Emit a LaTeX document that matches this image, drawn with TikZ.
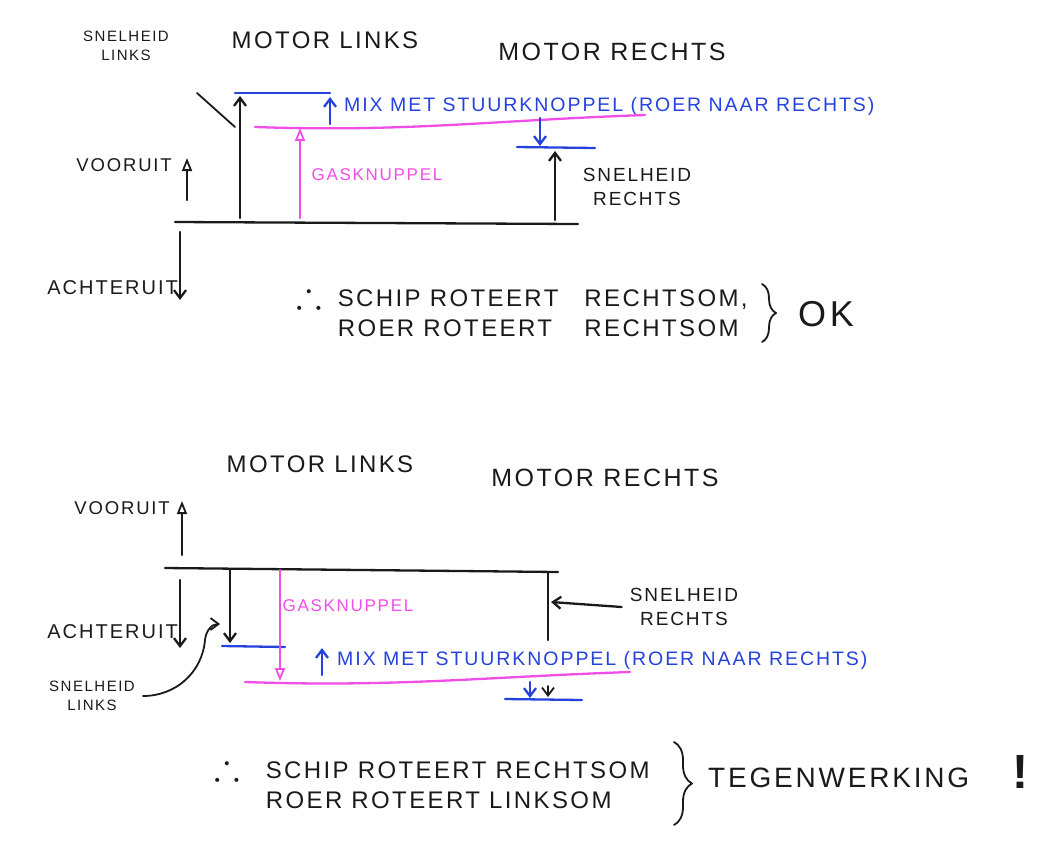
\documentclass[tikz,border=0pt]{standalone}
\usepackage{amssymb}
\usepackage{graphicx}
\usepackage{fontspec}
\setmainfont[LetterSpace=10]{Liberation Sans}
\usepackage{xcolor}
\usetikzlibrary{arrows.meta,decorations.pathreplacing}
\definecolor{inkc}{HTML}{1A1A1A}
\definecolor{mixc}{HTML}{2642DC}
\definecolor{gasc}{HTML}{F04EE6}
\tikzset{
  axis/.style={draw=inkc, line width=2.3pt, line cap=round, line join=round},
  mix/.style={draw=mixc, line width=2.3pt, line cap=round},
  gas/.style={draw=gasc, line width=2.3pt, line cap=round},
  barb/.style={-{Straight Barb[length=8pt,width=12pt]}},
  opentip/.style={-{Triangle[open,length=13pt,width=10pt,line width=1.8pt]}},
  lbl/.style={inner sep=0pt, text=inkc, align=center},
}
\newcommand{\thf}{\raisebox{-1pt}{\scalebox{1.6}{$\therefore$}}}

\begin{document}
\begin{tikzpicture}[x=1pt,y=-1pt]
\useasboundingbox (0,0) rectangle (1038,849);
% top: roer naar rechts, vooruit
\node[lbl, font=\fontsize{15}{19}\selectfont] (snl1) at (126,46) {SNELHEID\\LINKS};
\node[lbl, font=\fontsize{24}{28}\selectfont] (ml1) at (325,40) {MOTOR LINKS};
\node[lbl, font=\fontsize{25}{29}\selectfont] (mr1) at (612,52) {MOTOR RECHTS};
\node[lbl, font=\fontsize{18.5}{24}\selectfont, anchor=east] (vo1) at (172,165) {VOORUIT};
\node[lbl, font=\fontsize{20}{25}\selectfont, anchor=east] (ac1) at (178,288) {ACHTERUIT};
\draw[axis] (175,222) -- (578,224);
\draw[axis, opentip] (187,200) -- (187,158);
\draw[axis, barb] (180,232) -- (180,300);
\draw[axis, line width=1.8pt] (197,93) -- (235,127);
\draw[axis, barb] (240,218) -- (240,96);
\draw[mix] (235,93) -- (330,93);
\draw[mix, barb] (330,124) -- (330,97);
\node[lbl, text=mixc, font=\fontsize{19.5}{24}\selectfont, anchor=west] (mix1) at (344,106) {MIX MET STUURKNOPPEL (ROER NAAR RECHTS)};
\draw[gas] (255,127) to[out=-2,in=182] (645,115);
\draw[gas, opentip] (300,218) -- (300,128);
\node[lbl, text=gasc, font=\fontsize{17}{22}\selectfont] (gas1) at (377,175) {GASKNUPPEL};
\draw[mix, barb] (540,118) -- (540,146);
\draw[mix] (517,147) -- (595,148);
\draw[axis, barb] (555,220) -- (555,151);
\node[lbl, font=\fontsize{19}{24}\selectfont] (snr1) at (637,187) {SNELHEID\\RECHTS};
\node[lbl, font=\fontsize{24}{30}\selectfont, anchor=west, align=left] (res1) at (296,313)
  {\begin{tabular}{@{}l@{\hspace{16pt}}l@{\hspace{26pt}}l@{}}\thf & SCHIP ROTEERT & RECHTSOM,\\ & ROER ROTEERT & RECHTSOM\end{tabular}};
\draw[axis, line width=1.8pt, decorate, decoration={brace, amplitude=14pt}] (762,284) -- (762,342);
\node[lbl, font=\fontsize{36}{40}\selectfont, anchor=west] (ok1) at (798,314) {OK};
% bottom: roer naar rechts, achteruit
\node[lbl, font=\fontsize{24}{28}\selectfont] (ml2) at (320,464) {MOTOR LINKS};
\node[lbl, font=\fontsize{25}{29}\selectfont] (mr2) at (605,478) {MOTOR RECHTS};
\node[lbl, font=\fontsize{18.5}{24}\selectfont, anchor=east] (vo2) at (170,508) {VOORUIT};
\node[lbl, font=\fontsize{20}{25}\selectfont, anchor=east] (ac2) at (178,632) {ACHTERUIT};
\draw[axis] (165,568) -- (558,572);
\draw[axis, opentip] (182,555) -- (182,501);
\draw[axis, barb] (180,580) -- (180,648);
\draw[axis, barb] (230,570) -- (230,643);
\draw[mix] (222,646) -- (285,647);
\draw[gas, opentip] (280,570) -- (280,681);
\draw[gas] (245,682) to[out=-2,in=182] (630,672);
\node[lbl, text=gasc, font=\fontsize{17}{22}\selectfont] (gas2) at (348,606) {GASKNUPPEL};
\draw[axis] (548,572) -- (548,640);
\coordinate (rr2) at (551,602);
\node[lbl, font=\fontsize{19}{24}\selectfont] (snr2) at (684,607) {SNELHEID\\RECHTS};
\draw[axis, barb] ([xshift=-8pt]snr2.west) -- (rr2);
\draw[mix, barb] (322,675) -- (322,648);
\node[lbl, text=mixc, font=\fontsize{19.5}{24}\selectfont, anchor=west] (mix2) at (337,660) {MIX MET STUURKNOPPEL (ROER NAAR RECHTS)};
\draw[mix, barb] (530,682) -- (530,698);
\draw[mix] (505,699) -- (582,700);
\draw[axis, line width=1.8pt, barb] (548,686) -- (548,697);
\node[lbl, font=\fontsize{15}{19}\selectfont] (snl2) at (92,696) {SNELHEID\\LINKS};
\coordinate (ll2) at (220,624);
\draw[axis, line width=1.8pt, barb] ([xshift=8pt]snl2.east) to[out=0,in=-95] (205,640) to[out=85,in=180] (ll2);
\node[lbl, font=\fontsize{24}{30}\selectfont, anchor=west, align=left] (res2) at (214,785)
  {\begin{tabular}{@{}l@{\hspace{26pt}}l@{}}\thf & SCHIP ROTEERT RECHTSOM\\ & ROER ROTEERT LINKSOM\end{tabular}};
\draw[axis, line width=1.8pt, decorate, decoration={brace, amplitude=18pt}] (674,742) -- (674,825);
\node[lbl, font=\fontsize{28}{32}\selectfont, anchor=west] (tw2) at (708,778) {TEGENWERKING};
\node[lbl, font=\bfseries\fontsize{48}{52}\selectfont] (ex2) at (1020,772) {!};
\end{tikzpicture}
\end{document}
